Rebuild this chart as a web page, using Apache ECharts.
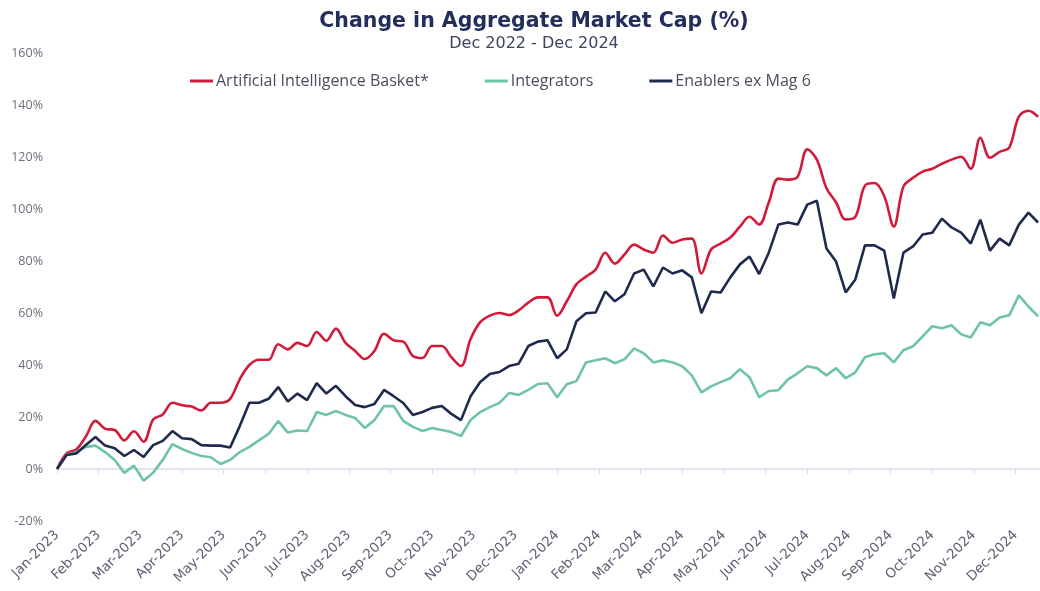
<!DOCTYPE html>
<html>
<head>
<meta charset="utf-8">
<title>Change in Aggregate Market Cap</title>
<script src="https://cdn.jsdelivr.net/npm/echarts@6/dist/echarts.min.js"></script>
<style>
html,body{margin:0;padding:0;background:#fff;}
#chart{width:1040px;height:591px;}
</style>
</head>
<body>
<div id="chart"></div>
<script>
// month tick labels (one tick per month, weekly data in between)
var MONTH_LABELS = ["Jan-2023","Feb-2023","Mar-2023","Apr-2023","May-2023","Jun-2023","Jul-2023","Aug-2023","Sep-2023","Oct-2023","Nov-2023","Dec-2023",
                    "Jan-2024","Feb-2024","Mar-2024","Apr-2024","May-2024","Jun-2024","Jul-2024","Aug-2024","Sep-2024","Oct-2024","Nov-2024","Dec-2024"];
var SERIES_NAMES = ["Artificial Intelligence Basket*","Integrators","Enablers ex Mag 6"];

// weekly % change
var aiBasket = [0, 6, 7.5, 12.5, 18.5, 15.5, 15, 11, 14.5, 10.5, 19, 21, 25.5, 24.5, 24, 22.5, 25.5, 25.5, 27, 34.5, 40, 42, 42, 48, 46, 48.5,
    47.3, 52.7, 49.3, 54, 48.5, 45.4, 42.3, 45.4, 52, 49.5, 49, 43.5, 42.7, 47.3, 47.3, 43, 39.6, 50, 56.5, 59, 60, 59.2, 61, 64, 66,
    66, 59, 64.5, 71, 74, 76.7, 83.2, 79, 82.5, 86.3, 84.4, 83.2, 89.8, 87, 88.3, 88.6, 75.2, 84.4, 86.7, 89, 93.2, 97,
    94, 102.5, 111.7, 111.3, 112.4, 123, 119, 108, 102.5, 96, 97, 109, 110, 105, 93.3, 108.6, 112, 114.4, 115.5, 117.4, 119, 120.1, 115.5, 127.4, 119.7, 122, 123.6, 135.5, 137.8, 135.5];
var integrators = [0, 5.5, 6.5, 8.5, 9, 6.5, 3.5, -1.5, 1.3, -4.5, -1.4, 3.5, 9.6, 7.7, 6.2, 5, 4.5, 1.9, 3.5, 6.5, 8.5, 11, 13.5, 18.5, 14, 14.8,
    14.6, 21.9, 20.8, 22.3, 20.8, 19.6, 15.8, 18.8, 24.2, 24.2, 18.5, 16.2, 14.6, 15.8, 15, 14.2, 12.7, 18.8, 21.9, 23.8, 25.4, 29.2, 28.5, 30.4, 32.7,
    33, 27.6, 32.6, 33.8, 41, 41.8, 42.6, 40.7, 42.2, 46.4, 44.5, 41, 41.8, 41, 39.5, 36, 29.5, 31.8, 33.4, 34.9, 38.4, 35.3,
    27.6, 30, 30.3, 34.5, 36.8, 39.5, 38.8, 36, 38.8, 34.9, 37.2, 43, 44.1, 44.5, 41, 45.7, 47.2, 51, 54.9, 54.1, 55.3, 51.8, 50.6, 56.4, 55.3, 58.3, 59.1, 66.8, 62.5, 58.7];
var enablers = [0, 5.4, 6, 9.2, 12.3, 9, 8, 5, 7.3, 4.6, 9.2, 10.8, 14.6, 11.8, 11.5, 9.2, 9, 9, 8.3, 16.5, 25.5, 25.5, 27, 31.5, 26, 29,
    26.5, 33, 29, 32, 28, 24.6, 23.8, 25, 30.4, 28, 25.4, 20.8, 21.9, 23.5, 24.2, 21.2, 18.8, 28, 33.5, 36.5, 37.3, 39.6, 40.5, 47.3, 49,
    49.5, 42.6, 46, 56.8, 59.9, 60.2, 68.3, 64.5, 67.2, 75.2, 76.7, 70.2, 77.5, 75.2, 76.4, 73.7, 59.9, 68.3, 67.9, 73.7, 78.7, 81.7,
    75, 83.2, 94, 94.8, 94, 101.7, 103.2, 84.8, 79.8, 67.9, 72.9, 86, 86, 84, 65.6, 83.2, 85.6, 90.2, 90.9, 96.3, 92.9, 90.9, 86.7, 95.9, 84, 88.6, 86, 94, 98.6, 94.8];

var COLORS = ["#d01c3a", "#6fc4a8", "#1f2b4e"];
var WEEKS_PER_MONTH = 52 / 12;
var FONT = "Open Sans";
var WIDE_FONT = "DejaVu Sans";

function toPoints(arr){
    var out = [];
    for(var i=0,len=arr.length;i<len;i++)
        out.push([i, arr[i]]);
    return out;
}

function monthLabel(value){
    var m = Math.round(value / WEEKS_PER_MONTH);
    if(Math.abs(value / WEEKS_PER_MONTH - m) > 0.01) return "";
    return MONTH_LABELS[m] || "";
}

function makeLine(idx, data, smooth){
    return {
        name: SERIES_NAMES[idx],
        type: "line",
        data: toPoints(data),
        symbol: "none",
        smooth: smooth,
        lineStyle: { width: 2.6, color: COLORS[idx] },
        itemStyle: { color: COLORS[idx] }
    };
}

var chart = echarts.init(document.getElementById("chart"));
chart.setOption({
    backgroundColor: "#fff",
    animation: false,
    title: {
        text: "Change in Aggregate Market Cap (%)",
        subtext: "Dec 2022 - Dec 2024",
        left: 529,
        top: 6,
        textAlign: "center",
        itemGap: 4,
        textStyle: { fontFamily: WIDE_FONT, fontWeight: "bold", fontSize: 20.5, color: "#242e5a" },
        subtextStyle: { fontFamily: WIDE_FONT, fontSize: 16, color: "#3d4461" }
    },
    legend: {
        left: 185,
        top: 68,
        icon: "rect",
        itemWidth: 23,
        itemHeight: 3,
        itemGap: 56,
        textStyle: { fontFamily: FONT, fontSize: 16, color: "#4a4e5c", padding: [0, 0, 0, -2] },
        data: SERIES_NAMES
    },
    grid: { left: 57, right: 0, top: 53, bottom: 70, containLabel: false, outerBoundsMode: "none" },
    xAxis: {
        type: "value",
        min: 0,
        max: 102.2,
        interval: WEEKS_PER_MONTH,
        axisLine: { onZero: true, lineStyle: { color: "#dcdcec", width: 1.5 } },
        axisTick: { show: true, length: 5, lineStyle: { color: "#dcdcec" } },
        splitLine: { show: false },
        axisLabel: {
            rotate: 45,
            margin: 12,
            showMaxLabel: false,
            fontFamily: WIDE_FONT,
            fontSize: 13.5,
            color: "#5d6275",
            formatter: monthLabel
        }
    },
    yAxis: {
        type: "value",
        min: -20,
        max: 160,
        interval: 20,
        axisLine: { show: false },
        axisTick: { show: false },
        splitLine: { show: false },
        axisLabel: {
            margin: 14,
            fontFamily: FONT,
            fontSize: 12.5,
            color: "#6b6f7b",
            formatter: "{value}%"
        }
    },
    series: [
        makeLine(0, aiBasket, 0.35),
        makeLine(1, integrators, false),
        makeLine(2, enablers, false)
    ]
});
</script>
</body>
</html>
